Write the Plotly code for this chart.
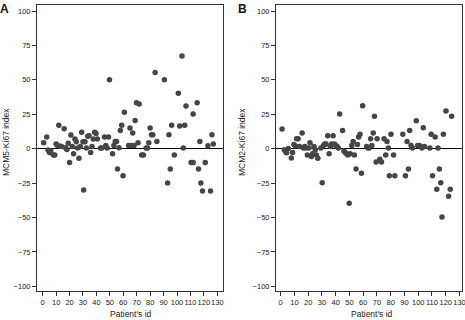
import plotly.graph_objects as go

# Panel A: MCM5-Ki67 index by patient id
mcm5_id = [0.7, 3, 4, 5, 5.5, 6, 8, 9, 10, 11, 12, 13, 14, 16, 17, 18, 19, 20, 21, 22,
           23, 24, 25, 26, 27, 28, 29, 30, 30.5, 31.5, 32.5, 33.5, 34.5, 35.7, 36.7, 37.7,
           38.7, 39.7, 40.7, 43, 44, 46, 47, 48, 49, 49.7, 52, 53, 54, 55, 55.7, 56.8,
           57.8, 58.8, 59.8, 60.8, 64, 65, 66, 67, 68, 68.8, 69.8, 71, 71.8, 73.7, 75,
           77, 78, 79, 80, 81, 82, 83.7, 85, 90.6, 93, 94, 95, 96, 98, 101, 102, 103.7,
           104.7, 105.7, 106.7, 110.5, 112, 112, 115, 116, 117, 117.8, 119, 121, 123,
           125, 126, 127]
mcm5_val = [4.4, 8.5, -1, -2.5, -3, -1.5, -4.6, -4.6, 3.4, 2.4, 17, 1.7, 1.5, 14.5, 0.7,
            -0.5, 4, -10, 10, 1.5, -3.6, 7, 5, 0.5, -7, 1.5, 12, 5, -30, 5, 0.5, 9, 9.4,
            -2.7, 1.5, 7, 12, 11, 7, 0.5, 0.5, 8.5, 2.4, 0.5, 8.5, 50, -3.6, 2.4, 5.3,
            5.3, -14.7, 0.7, 13.3, 17, -19.6, 26.4, 2.4, 15, 2.4, 11.4, 2.4, 20.5, 33.4,
            4.4, 32.4, -4.6, -4.6, 0.5, 0.5, 4.4, 15, 10.2, 10.2, 55.4, 5.3, 50, -25,
            10.2, -14.7, 17, -4.6, 40.2, 16.5, 67.3, 0.5, 17, 31, -10, -10, 25.2, 33.4,
            -14.7, 5.3, -25, -30.7, -10, 2.2, -30.7, 10.2, 3.4]

# Panel B: MCM2-Ki67 index by patient id
mcm2_id = [1, 2.6, 3.6, 4.3, 5.5, 7.7, 8.6, 9.6, 10.8, 11.5, 12.7, 13.6, 15.6, 16.5, 17.5,
           18.4, 19.4, 20.3, 21.3, 22.3, 23.2, 24.2, 25.1, 26, 27, 29.2, 30.2, 31.1, 32.1,
           33, 34.2, 35.2, 36.1, 37.1, 38.1, 39, 40, 41, 41.9, 42.9, 45, 46, 46.9, 47.9,
           48.8, 49.8, 50.5, 51.7, 52.7, 53.6, 54.8, 55.8, 56.7, 57.7, 58.7, 59.6, 62.5,
           63.4, 64.4, 65.4, 66.3, 67.3, 68.2, 69.4, 70.1, 72.1, 73.3, 75.2, 76.4, 77.3,
           78.3, 79, 80.2, 82.1, 83, 88.8, 90.7, 91.9, 92.9, 93.8, 94.8, 95.8, 98.6, 99.6,
           100.8, 101.7, 102.7, 103.7, 104.6, 108.5, 109.4, 110.4, 112.3, 113.5, 114.4,
           115.4, 116.4, 117.3, 118.3, 120.2, 122.1, 123.3, 124.3]
mcm2_val = [14.3, -0.7, -2.2, -2.9, 0.2, -6.8, -2.7, 3.1, 1.9, 7.3, 7.3, 1.5, 11.4, 0.5,
            1.5, 0.5, -4.6, 0.5, 4.4, -5.6, -3.6, 1.5, -0.7, -4.6, -7, 0.5, -24.7, 2.4,
            3.4, 3.4, 9.4, -3.6, 1.5, 3.4, 9.4, 3.4, 2.4, 1.5, 0.5, 25.2, 13.3, -1.7,
            -2.7, -3.6, -4.6, -39.7, -3.6, 2.4, 5.3, -4.6, -14.7, 3.1, 8.5, 10.4, -17.9,
            31.2, 1.5, 0.5, 0.5, 7.3, 2.4, 11.4, 23.5, -9.7, 7.3, -7.7, -9.7, 7.3, -4.6,
            5.3, 0.5, -19.6, 10.4, -4.6, -19.6, 10.4, -19.6, 5.3, -14.7, 13.3, 2.4, 0.5,
            20.3, 2.4, 2.4, 1.5, 0.5, 15.3, 1.5, 0.5, 10.4, -19.6, 8.5, -29.5, 0.5, -14.7,
            -24.7, -49.6, 10.4, 27.4, -34.6, -29.5, 23.5]

x_ticks = list(range(0, 131, 10))
y_ticks = [-100, -75, -50, -25, 0, 25, 50, 75, 100]

FONT = "Liberation Sans, Arial, sans-serif"
DOT = "#454545"

fig = go.Figure()
fig.add_trace(go.Scatter(x=mcm5_id, y=mcm5_val, mode="markers", xaxis="x", yaxis="y",
                         marker=dict(size=5.5, color=DOT), showlegend=False))
fig.add_trace(go.Scatter(x=mcm2_id, y=mcm2_val, mode="markers", xaxis="x2", yaxis="y2",
                         marker=dict(size=5.5, color=DOT), showlegend=False))

W, H, L, R, T, B = 465, 320, 37, 3, 5, 29
PW, PH = W - L - R, H - T - B


def px(x):
    return (x - L) / PW


def py(y):
    return (H - B - y) / PH


common_x = dict(showgrid=False, zeroline=False, showline=True, mirror=True,
                linecolor="#333333", linewidth=1, ticks="outside", ticklen=4,
                tickcolor="#333333", tickvals=x_ticks, tickangle=0,
                tickfont=dict(family=FONT, size=7.5, color="#222222"),
                automargin=False, ticklabeloverflow="allow", fixedrange=True)
common_y = dict(showgrid=False, zeroline=True, zerolinecolor="#000000", zerolinewidth=1.2,
                showline=True, mirror=True, linecolor="#333333", linewidth=1,
                ticks="outside", ticklen=4, tickcolor="#333333", tickvals=y_ticks,
                range=[-103.4, 104.4],
                tickfont=dict(family=FONT, size=7.5, color="#222222"),
                automargin=False, fixedrange=True)

fig.update_layout(
    width=W, height=H, template="none",
    paper_bgcolor="white", plot_bgcolor="white",
    margin=dict(l=L, r=R, t=T, b=B, pad=0),
    xaxis=dict(domain=[0, 186 / PW], range=[-4.24, 134.24], anchor="y", **common_x),
    yaxis=dict(domain=[0, 1], anchor="x", **common_y),
    xaxis2=dict(domain=[239 / PW, 1], range=[-3.42, 131.85], anchor="y2", **common_x),
    yaxis2=dict(domain=[0, 1], anchor="x2", **common_y),
    annotations=[
        dict(text="<b>A</b>", x=px(4), y=py(9), xref="paper", yref="paper",
             showarrow=False, xanchor="center", yanchor="middle",
             font=dict(family=FONT, size=12, color="#111111")),
        dict(text="<b>B</b>", x=px(242), y=py(9), xref="paper", yref="paper",
             showarrow=False, xanchor="center", yanchor="middle",
             font=dict(family=FONT, size=12, color="#111111")),
        dict(text="MCM5-Ki67 index", x=px(6), y=py(142), xref="paper", yref="paper",
             showarrow=False, textangle=-90, xanchor="center", yanchor="middle",
             font=dict(family=FONT, size=8.5, color="#222222")),
        dict(text="MCM2-Ki67 index", x=px(242), y=py(142), xref="paper", yref="paper",
             showarrow=False, textangle=-90, xanchor="center", yanchor="middle",
             font=dict(family=FONT, size=8.5, color="#222222")),
        dict(text="Patient's id", x=px(131), y=py(314), xref="paper", yref="paper",
             showarrow=False, xanchor="center", yanchor="middle",
             font=dict(family=FONT, size=8.5, color="#222222")),
        dict(text="Patient's id", x=px(371.5), y=py(314), xref="paper", yref="paper",
             showarrow=False, xanchor="center", yanchor="middle",
             font=dict(family=FONT, size=8.5, color="#222222")),
    ],
)

fig.write_html("out.html", config={"displayModeBar": False},
               post_script="document.body.style.margin='0';document.body.style.overflow='hidden';")
